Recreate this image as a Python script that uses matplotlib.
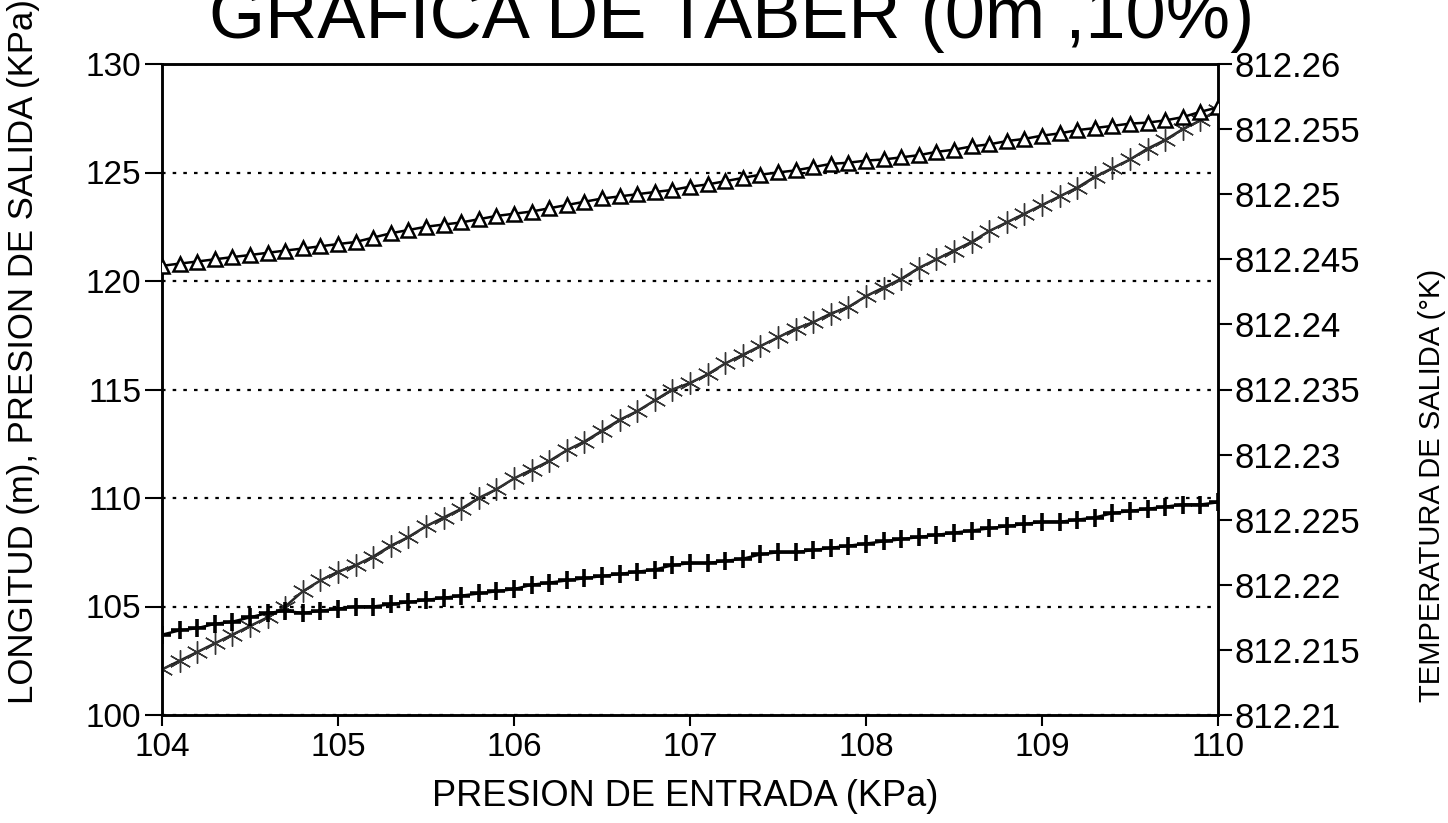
import numpy as np
import matplotlib
matplotlib.use("Agg")
import matplotlib.pyplot as plt
from matplotlib.ticker import FixedLocator, FixedFormatter

# Inlet pressure sweep (KPa)
presion_entrada = np.linspace(104.0, 110.0, 61)

# Pipe length (m)
longitud = [
    102.1, 102.5, 102.9, 103.3, 103.7, 104.1, 104.5, 105.0, 105.7, 106.2,
    106.6, 106.9, 107.3, 107.8, 108.2, 108.7, 109.1, 109.5, 110.0, 110.4,
    110.9, 111.3, 111.7, 112.2, 112.6, 113.1, 113.6, 114.0, 114.5, 115.0,
    115.3, 115.7, 116.2, 116.6, 117.0, 117.4, 117.8, 118.1, 118.5, 118.8,
    119.3, 119.7, 120.1, 120.6, 121.0, 121.4, 121.8, 122.3, 122.7, 123.1,
    123.5, 123.9, 124.3, 124.8, 125.2, 125.6, 126.1, 126.5, 127.0, 127.4,
    127.9,
]

# Outlet pressure (KPa)
presion_salida = [
    103.7, 103.9, 104.0, 104.2, 104.3, 104.5, 104.7, 104.8, 104.7, 104.8,
    104.9, 105.0, 105.0, 105.1, 105.2, 105.3, 105.4, 105.5, 105.6, 105.7,
    105.8, 106.0, 106.1, 106.2, 106.3, 106.4, 106.5, 106.6, 106.7, 106.9,
    107.0, 107.0, 107.1, 107.2, 107.4, 107.5, 107.5, 107.6, 107.7, 107.8,
    107.9, 108.0, 108.1, 108.2, 108.3, 108.4, 108.5, 108.6, 108.7, 108.8,
    108.9, 108.9, 109.0, 109.1, 109.3, 109.4, 109.5, 109.6, 109.7, 109.7,
    109.8,
]

# Outlet temperature (K)
temperatura_salida = [
    812.2445, 812.24467, 812.24483, 812.245, 812.24517, 812.24533, 812.2455,
    812.24567, 812.24583, 812.246, 812.24617, 812.24633, 812.24667, 812.247,
    812.24725, 812.2475, 812.24767, 812.24783, 812.24808, 812.24833, 812.2485,
    812.24867, 812.24892, 812.24917, 812.24942, 812.24967, 812.24983, 812.25,
    812.25017, 812.25033, 812.25058, 812.25075, 812.251, 812.25125, 812.2515,
    812.25167, 812.25183, 812.25208, 812.25233, 812.25242, 812.25258, 812.25267,
    812.25283, 812.253, 812.25325, 812.25342, 812.25367, 812.25383, 812.25408,
    812.25425, 812.2545, 812.25467, 812.25492, 812.25508, 812.25525, 812.25542,
    812.2555, 812.25567, 812.25592, 812.25633, 812.25667,
]

x_ticks = [104, 105, 106, 107, 108, 109, 110]
x_labels = ["104", "105", "106", "107", "108", "109", "110"]
y_left_ticks = [100, 105, 110, 115, 120, 125, 130]
y_left_labels = ["100", "105", "110", "115", "120", "125", "130"]
y_right_ticks = [812.21, 812.215, 812.22, 812.225, 812.23, 812.235,
                 812.24, 812.245, 812.25, 812.255, 812.26]
y_right_labels = ["812.21", "812.215", "812.22", "812.225", "812.23", "812.235",
                  "812.24", "812.245", "812.25", "812.255", "812.26"]

titulo = "GRAFICA DE TABER (0m ,10%)"

plt.rcParams["font.family"] = ["Liberation Sans", "DejaVu Sans"]

W, H = 1448, 823
fig = plt.figure(figsize=(W / 100, H / 100), dpi=100)
fig.patch.set_facecolor("white")

left, right, top, bottom = 162, 1218, 64, 715
ax = fig.add_axes([left / W, 1 - bottom / H, (right - left) / W, (bottom - top) / H])
ax.set_xlim(104, 110)
ax.set_ylim(100, 130)

ax.xaxis.set_major_locator(FixedLocator(x_ticks))
ax.xaxis.set_major_formatter(FixedFormatter(x_labels))
ax.yaxis.set_major_locator(FixedLocator(y_left_ticks))
ax.yaxis.set_major_formatter(FixedFormatter(y_left_labels))

ax.yaxis.grid(True, linestyle=(0, (1.6, 3.2)), color="black", linewidth=1.6)
ax.set_axisbelow(True)

for s in ax.spines.values():
    s.set_color("black")
    s.set_linewidth(1.8)

ax.tick_params(axis="x", direction="out", length=8, width=1.5, pad=4,
               labelsize=24, colors="black")
ax.tick_params(axis="y", direction="out", length=12, width=1.5, pad=3,
               labelsize=24, colors="black")

# Length: asterisk markers
ax.plot(presion_entrada, longitud, color="#222222", linewidth=1.8,
        marker=(6, 2, 0), markersize=16, markeredgewidth=1.0,
        markeredgecolor="#333333", zorder=3)
# Outlet pressure: plus markers
ax.plot(presion_entrada, presion_salida, color="black", linewidth=1.8,
        marker="+", markersize=13, markeredgewidth=2.6, zorder=3)

ax2 = ax.twinx()
ax2.set_ylim(812.21, 812.26)
ax2.yaxis.set_major_locator(FixedLocator(y_right_ticks))
ax2.yaxis.set_major_formatter(FixedFormatter(y_right_labels))
ax2.tick_params(axis="y", direction="out", length=10, width=1.5, pad=2,
                labelsize=25, colors="black")
for s in ax2.spines.values():
    s.set_color("black")
    s.set_linewidth(1.8)

# Outlet temperature: triangle markers
ax2.plot(presion_entrada, temperatura_salida, color="black", linewidth=1.8,
         marker="^", markersize=10, markeredgewidth=1.8,
         markerfacecolor="white", markeredgecolor="black", zorder=3)

fig.text(685 / W, 1 - 797 / H, "PRESION DE ENTRADA (KPa)", ha="center", va="center",
         fontsize=26, color="black")
fig.text(24 / W, 1 - 352 / H, "LONGITUD (m), PRESION DE SALIDA (KPa)",
         ha="center", va="center", rotation=90, fontsize=25, color="black")
fig.text(1432 / W, 1 - 485 / H, "TEMPERATURA DE SALIDA (\u00b0K)",
         ha="center", va="center", rotation=90, fontsize=21, color="black")
fig.text(732 / W, 1 - 38 / H, titulo, ha="center", va="baseline",
         fontsize=52, color="black")

fig.savefig("out.png", dpi=100, facecolor="white")
